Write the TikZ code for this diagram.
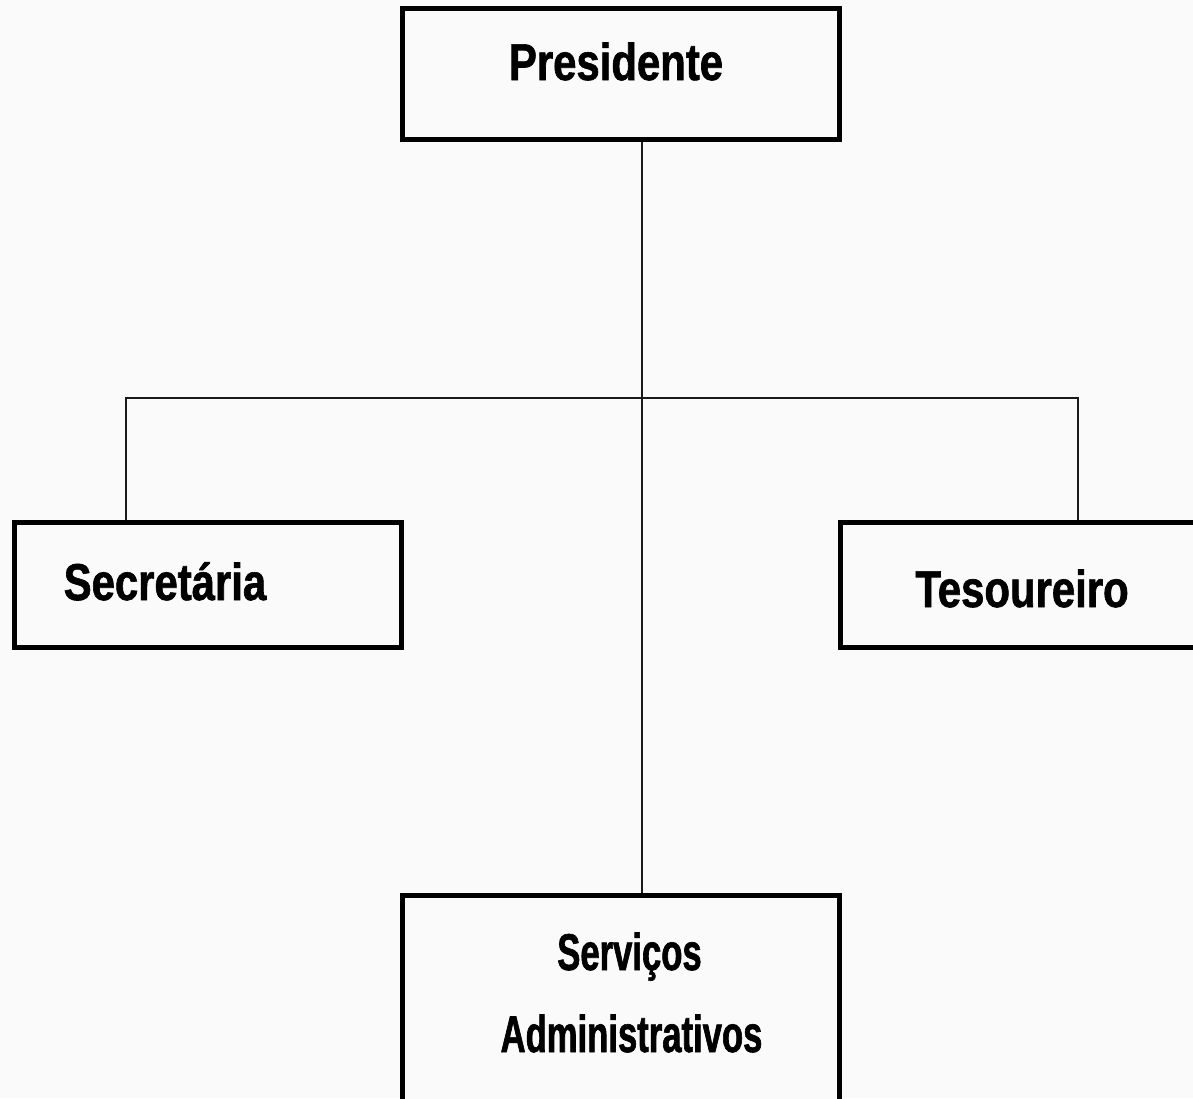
\documentclass[tikz,border=0pt]{standalone}
\usepackage{fontspec}
\usepackage{tikz}
\newfontfamily\cargofont[FakeStretch=0.81, FakeBold=1.2]{Liberation Sans}
\newfontfamily\cargofontnarrow[FakeStretch=0.67, FakeBold=1.2]{Liberation Sans}
\definecolor{paper}{HTML}{FAFAFA}
\definecolor{traco}{HTML}{1A1A1A}
\tikzset{
  cargobox/.style={draw=black, line width=2.8pt, fill=paper, rectangle, inner sep=0pt},
  cargotxt/.style={anchor=base, inner sep=0pt, font=\cargofont\bfseries\fontsize{25.85}{30}\selectfont},
  ligacao/.style={draw=traco, line width=1.1pt}
}
\begin{document}
\begin{tikzpicture}[x=0.5pt, y=-0.5pt]
        % fundo
        \fill[paper] (0, 0) rectangle (1193, 1098);
        \useasboundingbox (0, 0) rectangle (1193, 1098);

        % Pontos da ligacao
        \coordinate (bus) at (642, 398);
        \coordinate (busL) at (126, 398);
        \coordinate (busR) at (1078, 398);

        % Caixas
        \node[cargobox, minimum width=218.5pt, minimum height=65.5pt] (pres) at (621, 74) {};
        \node[cargobox, minimum width=193.5pt, minimum height=62.5pt] (sec) at (208, 585) {};
        \node[cargobox, minimum width=210pt, minimum height=62.5pt] (tes) at (1050.5, 585) {};
        \node[cargobox, minimum width=218.5pt, minimum height=150pt] (serv) at (621, 1045.5) {};

        % Ligacoes
        \draw[ligacao] (pres.south -| bus) -- (bus) -- (serv.north -| bus);
        \draw[ligacao] (sec.north -| busL) -- (busL) -- (busR) -- (tes.north -| busR);

        % Textos
        \node[cargotxt] (pres-txt) at (616, 80) {Presidente};
        \node[cargotxt] (sec-txt) at (165, 600) {Secretária};
        \node[cargotxt] (tes-txt) at (1022, 607) {Tesoureiro};
        \node[cargotxt, font=\cargofontnarrow\bfseries\fontsize{25.85}{30}\selectfont] (serv-txt1) at (629.5, 970) {Serviços};
        \node[cargotxt, font=\cargofontnarrow\bfseries\fontsize{25.85}{30}\selectfont] (serv-txt2) at (631.5, 1052) {Administrativos};
\end{tikzpicture}
\end{document}
